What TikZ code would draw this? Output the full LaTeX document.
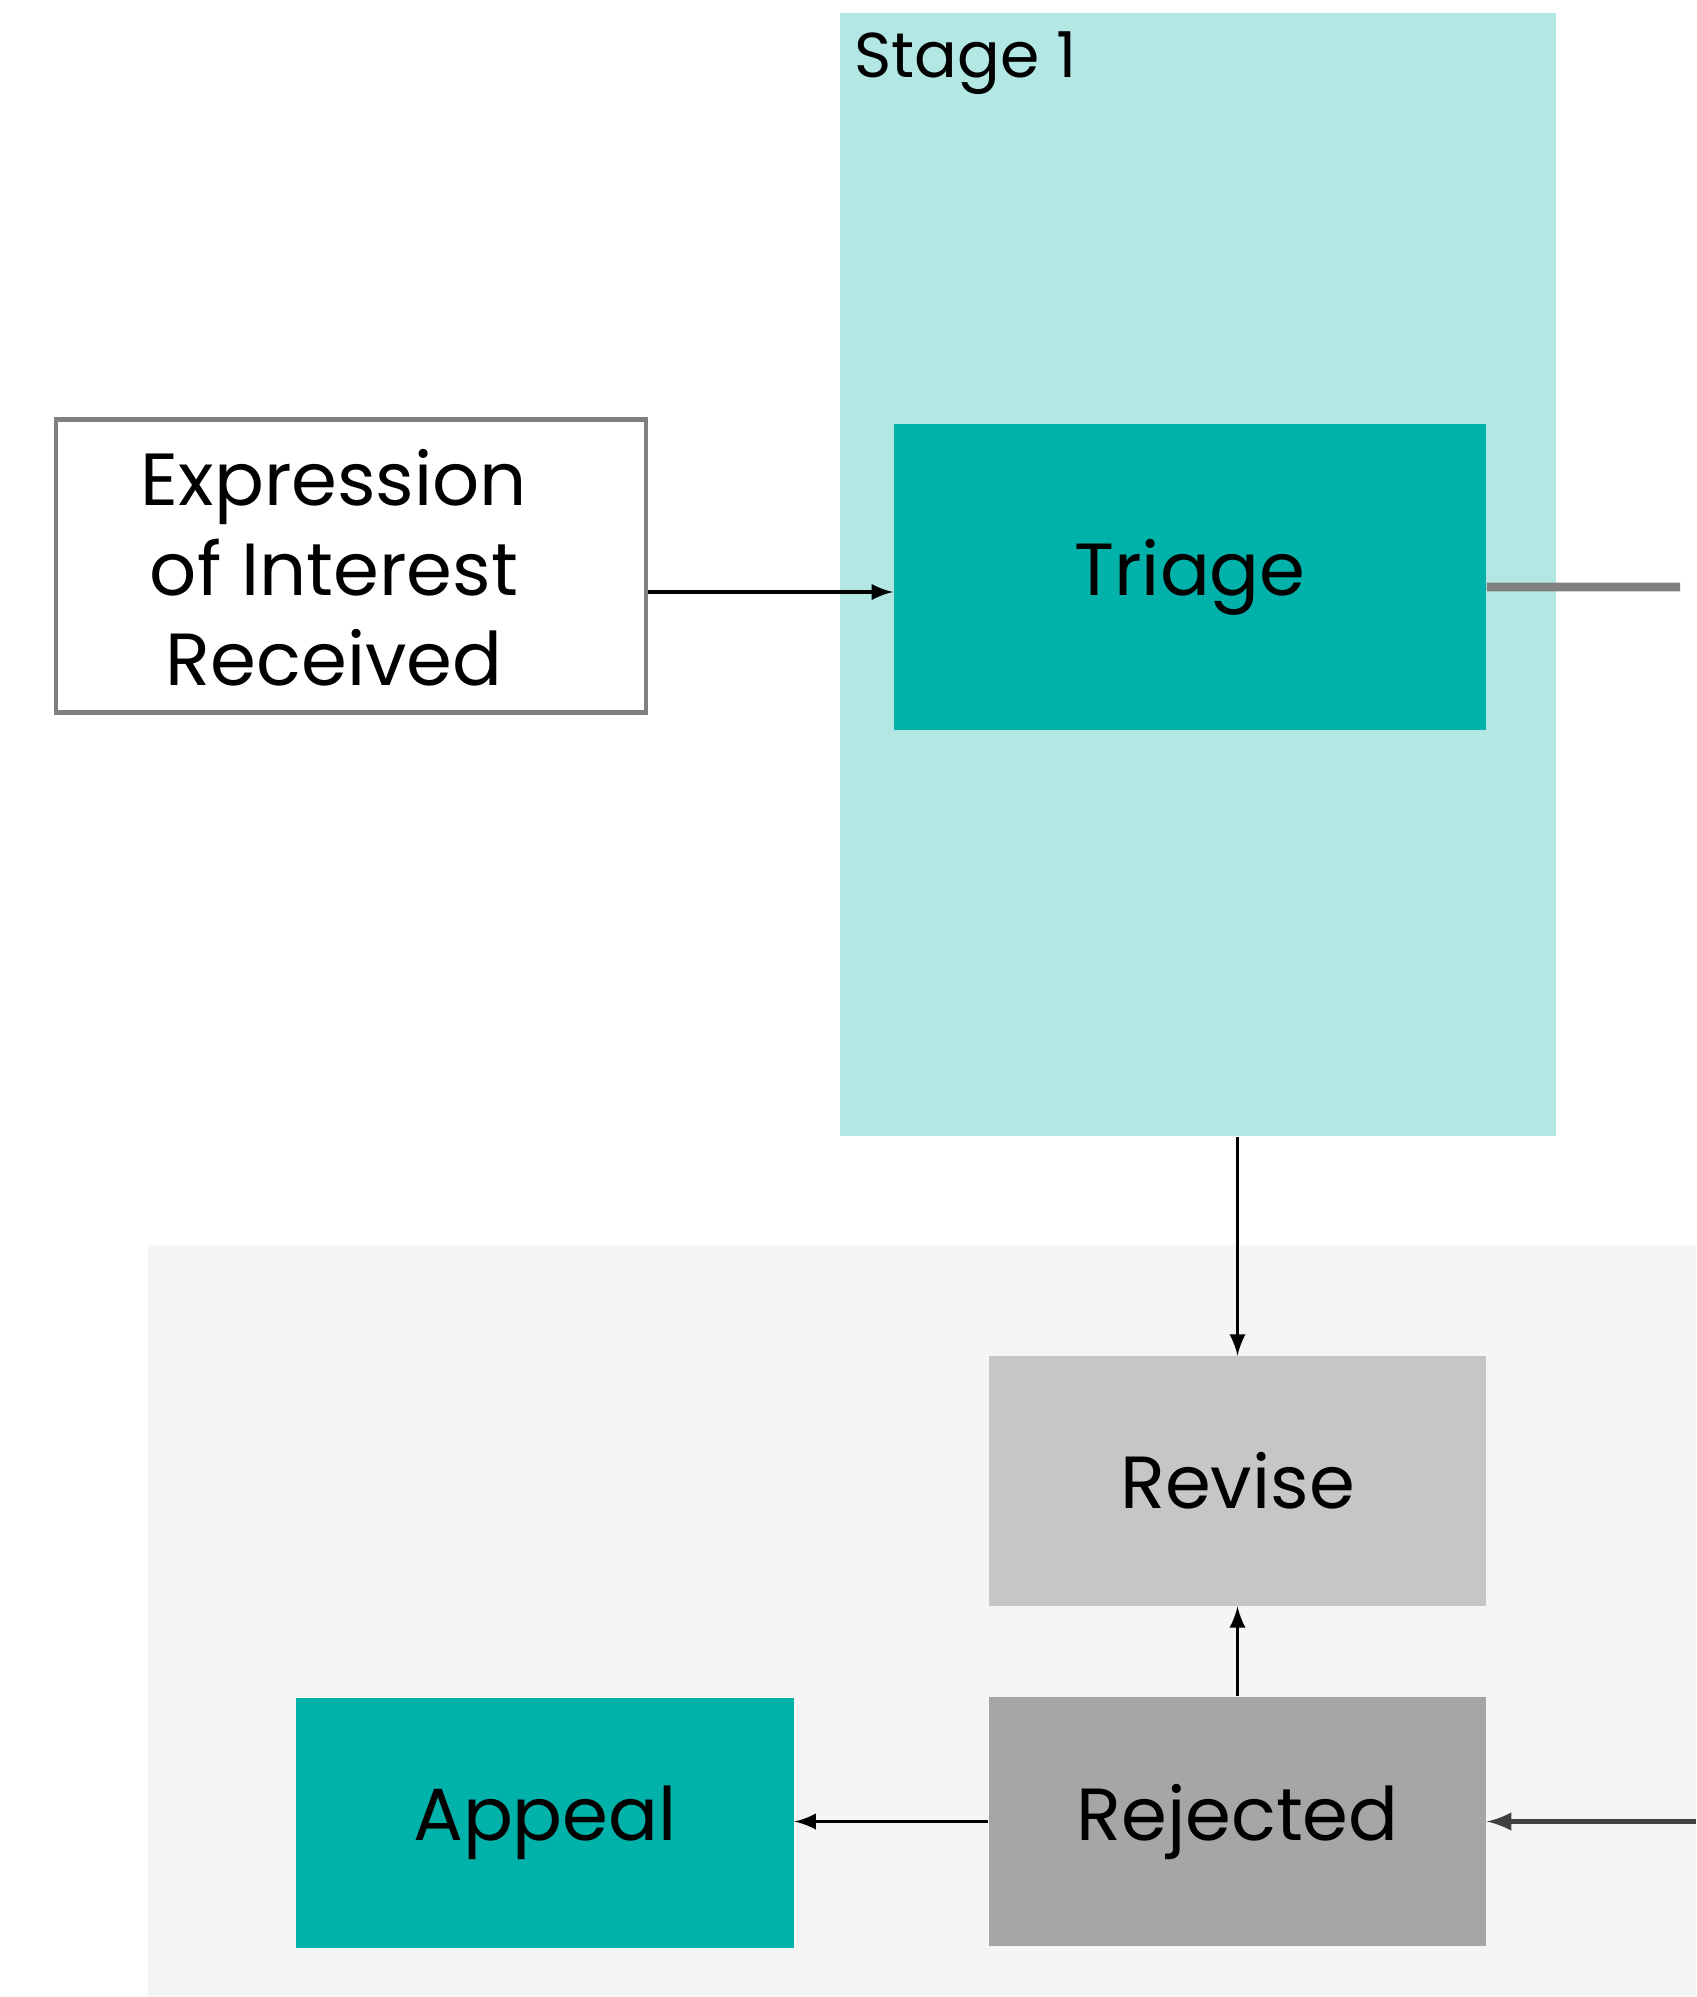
\documentclass[tikz,border=0pt]{standalone}
\usepackage{fontspec}
\setmainfont{Poppins}
\usetikzlibrary{arrows}

\definecolor{teal1}{HTML}{00B2A9}
\definecolor{teal2}{HTML}{B3E7E4}
\definecolor{back}{HTML}{F5F5F5}
\definecolor{grey1}{HTML}{C6C6C6}
\definecolor{grey2}{HTML}{A6A6A6}

\tikzset{
  box/.style={rectangle,inner sep=0pt,minimum width=4.97cm,minimum height=2.49cm,font=\fontsize{21}{25}\selectfont},
  arr/.style={-latex,line width=1.1pt,black},
}

\begin{document}
\begin{tikzpicture}[x=0.01cm,y=-0.01cm]
\useasboundingbox (0,0) rectangle (1696,1997);
%\draw [help lines,step=1cm] (0,0) grid (1696,-1997);

% background areas
\fill [back] (148,1245) rectangle (1696,1997);
\node (stage) [rectangle,fill=teal2,inner sep=0pt,minimum width=7.16cm,minimum height=11.23cm] at (1198,574.5) {};
\node (stagetitle) [anchor=base west,font=\fontsize{18}{22}\selectfont] at (842,78) {Stage 1};

% boxes
\node (triage) [box,fill=teal1,minimum width=5.92cm,minimum height=3.06cm] at (1190,577) {Triage};
\node (expr) [box,draw=gray,line width=1.2pt,fill=white,minimum width=5.9cm,minimum height=2.93cm] at (351,566) {};
\node (exprtext) [align=center,font=\fontsize{21}{25.6}\selectfont] at (334,568) {Expression\\of Interest\\Received};
\node (revise) [box,fill=grey1] at (1237.5,1481) {Revise};
\node (rejected) [box,fill=grey2] at (1237.5,1821.5) {Rejected};
\node (appeal) [box,fill=teal1] at (545,1823) {Appeal};

\coordinate (out1) at (1680,587);
\coordinate (in1) at (1696,1821.5);

% connectors
\draw [arr] ([yshift=-0.26cm]expr.east) -- ([yshift=-0.26cm]expr.east -| triage.west);
\draw [gray,line width=2.5pt] ([yshift=-0.1cm]triage.east) -- (out1);
\draw [arr] (revise.north |- stage.south) -- (revise.north);
\draw [arr] (rejected.north) -- (revise.south);
\draw [arr] (rejected.west) -- (rejected.west -| appeal.east);
\draw [-latex,line width=1.4pt,black!75] (in1) -- (rejected.east);
\end{tikzpicture}
\end{document}
